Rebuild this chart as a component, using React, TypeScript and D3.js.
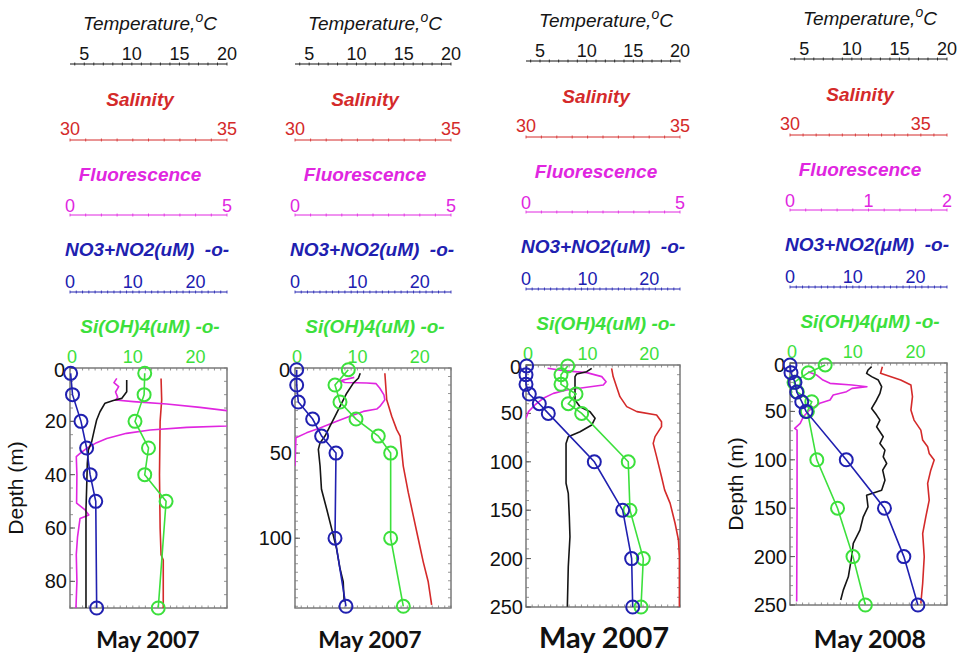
import React from 'react';
import * as d3 from 'd3';

type Pt = [number, number]; // [depth (m), value]

// ---------- tick labels ----------
const tempTicks = [5, 10, 15, 20];
const salTicksA = [30, 35];
const salTicksB = [30, 35];
const flTicksA = [0, 5];
const flTicksB = [0, 1, 2];
const nutTicks = [0, 10, 20];
const panelLabels = ['May 2007', 'May 2007', 'May 2007', 'May 2008'];

// ---------- Panel 1 (0-90 m) ----------
const p1Temp: Pt[] = [[4.5, 9.46], [8.9, 9.46], [11.4, 8.93], [12.2, 8.05], [13.2, 7.18], [16.4, 6.65], [19.5, 6.3], [23.3, 6.05], [27.6, 5.78], [30.7, 5.43], [35.7, 5.32], [45, 5.25], [53, 5.18], [90, 5.18]];
const p1Sal: Pt[] = [[3.9, 32.9], [12, 32.92], [20, 32.87], [40, 32.85], [60, 32.87], [70, 32.9], [72, 32.97], [90, 32.97]];
const p1Fl: Pt[] = [[3.9, 1.49], [5.5, 1.4], [7, 1.55], [9, 1.45], [11, 1.52], [12, 1.45], [12.6, 2.02], [13.5, 3.08], [14.75, 4.14], [16, 4.99], [18, 5.6], [20, 5.6], [21.75, 5.0], [22.25, 3.72], [23.25, 2.55], [24.5, 1.8], [26.4, 1.17], [28, 0.85], [30.1, 0.53], [32, 0.32], [33.2, 0.2], [40, 0.22], [50.7, 0.21], [53.2, 0.48], [55.1, 0.6], [56.4, 0.32], [63.3, 0.24], [70, 0.2], [80, 0.22], [90, 0.19]];
const p1NutDepth = [2, 10, 20, 30, 40, 50, 90];
const p1No3 = [0.1, 0.4, 1.75, 2.65, 3.2, 4.1, 4.25];
const p1Si = [11.9, 11.8, 10.35, 12.5, 11.9, 15.3, 14.05];

// ---------- Panel 2 (0-140 m) ----------
const p2Temp: Pt[] = [[3.1, 10.4], [6, 10.2], [8.9, 9.67], [14.8, 8.97], [22.6, 8.26], [28.4, 7.73], [34.2, 7.2], [40, 6.67], [44, 6.15], [47.8, 5.97], [57.6, 6.15], [71.2, 6.3], [82.8, 6.85], [94.5, 7.38], [106.2, 7.9], [117.8, 8.26], [125.6, 8.6], [137.3, 8.7]];
const p2Sal: Pt[] = [[3.1, 32.88], [18.7, 32.94], [28.4, 33.1], [36.2, 33.26], [40, 33.37], [57.6, 33.47], [73.1, 33.63], [86.7, 33.79], [100.3, 33.95], [113.9, 34.11], [125.6, 34.27], [139.2, 34.38]];
const p2Fl: Pt[] = [[5.5, 1.9], [7.5, 1.45], [8.5, 1.6], [8.8, 2.3], [9.2, 2.6], [11.9, 2.72], [15.8, 2.85], [18.7, 2.88], [22.6, 2.72], [24.1, 2.62], [25.5, 2.19], [28.4, 1.76], [31.3, 1.34], [35.2, 0.8], [38.1, 0.37], [41, 0.03], [57.6, 0]];
const p2NutDepth = [1, 10, 20, 30, 40, 50, 100, 140];
const p2No3 = [0.27, 0.27, 0.53, 2.83, 4.27, 6.57, 6.41, 8.17];
const p2Si = [8.54, 6.41, 7.21, 9.78, 13.35, 15.33, 15.33, 17.36];

// ---------- Panel 3 (0-250 m) ----------
const p3Temp: Pt[] = [[3.4, 10.54], [6.9, 10.0], [9.3, 8.93], [12, 8.75], [36.2, 8.75], [43.1, 9.29], [48.2, 10.36], [55.1, 10.9], [62, 10.54], [68.9, 9.29], [74.1, 8.03], [81, 7.79], [122.2, 7.79], [132.6, 8.03], [156.7, 8.14], [177.4, 8.21], [208.4, 8.03], [249.7, 7.93]];
const p3Sal: Pt[] = [[3.4, 32.78], [12, 32.83], [22.4, 32.94], [32.7, 33.05], [43, 33.27], [48.2, 33.6], [51.6, 34.24], [58.6, 34.4], [63.7, 34.4], [74, 34.19], [81, 34.13], [94.7, 34.24], [115.4, 34.4], [129, 34.5], [142.9, 34.68], [163.5, 34.84], [180.8, 34.95], [198, 34.98], [249.7, 34.98]];
const p3Fl: Pt[] = [[3.4, 0.7], [5.8, 1.21], [7.9, 1.97], [12, 2.46], [17.2, 2.6], [20.6, 2.51], [23, 1.97], [25.8, 1.32], [29.3, 0.89], [34.4, 0.56], [41.3, 0.29], [48.2, 0.08], [55.1, 0]];
const p3NutDepth = [1, 10, 20, 30, 40, 50, 100, 150, 200, 250];
const p3No3 = [0.1, 0, 0, 0.54, 2.16, 3.62, 11.09, 15.69, 17.15, 17.32];
const p3Si = [6.77, 5.68, 5.68, 8.12, 6.87, 9.04, 16.6, 16.88, 19.04, 18.67];

// ---------- Panel 4 (0-250 m) ----------
const p4Temp: Pt[] = [[3.8, 12.08], [7.2, 11.7], [10.7, 11.55], [14.1, 12.08], [17.6, 12.78], [24.5, 13.13], [31.4, 12.95], [38.2, 12.6], [46.9, 12.08], [53.8, 12.6], [59, 12.95], [65.9, 12.6], [76.2, 13.3], [83.1, 12.95], [90, 13.48], [96.9, 13.3], [103.8, 13.66], [110.7, 13.24], [121, 13.48], [131.4, 13.13], [136.6, 11.55], [148.6, 11.7], [158.9, 11.2], [172.7, 10.85], [186.4, 10.15], [200.2, 9.98], [220.9, 9.63], [234.6, 9.1], [244.9, 8.83]];
const p4Sal: Pt[] = [[3.8, 33.53], [10.7, 33.46], [17.6, 34.23], [22.7, 34.62], [34.8, 34.68], [48.6, 34.62], [59, 34.74], [69.3, 35.0], [79.6, 35.07], [86.5, 35.26], [93.4, 35.32], [100.3, 35.51], [110.7, 35.38], [124.4, 35.26], [141.7, 35.32], [159, 35.19], [176.2, 35.07], [200.2, 35.13], [227.8, 35.07], [248.5, 35.0]];
const p4Fl: Pt[] = [[9, 0.23], [12.4, 0.34], [17.6, 0.42], [21, 0.51], [22.7, 0.79], [24.5, 0.98], [26.2, 0.79], [29.6, 0.72], [33.1, 0.55], [38.2, 0.51], [41.6, 0.38], [48.6, 0.25], [55.5, 0.17], [62.3, 0.13], [67.5, 0.06], [69.3, 0.09], [150, 0.09], [246.5, 0.085]];
const p4NutDepth = [2, 10, 20, 30, 40, 50, 100, 150, 200, 250];
const p4No3 = [0, 0.16, 0.8, 1.07, 1.87, 2.56, 8.96, 15.04, 18.13, 20.37];
const p4Si = [5.6, 2.93, 0.64, 1.17, 3.47, 2.77, 4.27, 7.57, 10.03, 12];

// ---------- layout / styles ----------
const FONT = "'Liberation Sans', Arial, sans-serif";
const COL = { temp: '#151515', sal: '#d42a2a', fl: '#e026e0', no3: '#2020b0', si: '#3ce03c' };

interface PanelDef {
  label: string; x0: number; x1: number; y0: number; y1: number; dy: number;
  depthMax: number; depthTicks: number[]; depthMinor: number;
  salDomain: [number, number]; salTicks: number[]; salMinor: number;
  flDomain: [number, number]; flTicks: number[]; flMinor: number;
  temp: Pt[]; sal: Pt[]; fl: Pt[]; nutDepth: number[]; no3: number[]; si: number[];
  unit: string; depthLabel: boolean; labelSize: number; labelX: number;
}

const panels: PanelDef[] = [
  { label: panelLabels[0], x0: 70, x1: 227, y0: 368, y1: 608, dy: 0, depthMax: 90, depthTicks: [0, 20, 40, 60, 80], depthMinor: 5,
    salDomain: [30, 35], salTicks: salTicksA, salMinor: 0.5, flDomain: [0, 5], flTicks: flTicksA, flMinor: 0.5,
    temp: p1Temp, sal: p1Sal, fl: p1Fl, nutDepth: p1NutDepth, no3: p1No3, si: p1Si, unit: 'u', depthLabel: true, labelSize: 23, labelX: 148 },
  { label: panelLabels[1], x0: 295, x1: 451, y0: 368, y1: 608, dy: 0, depthMax: 141, depthTicks: [0, 50, 100], depthMinor: 5,
    salDomain: [30, 35], salTicks: salTicksA, salMinor: 0.5, flDomain: [0, 5], flTicks: flTicksA, flMinor: 0.5,
    temp: p2Temp, sal: p2Sal, fl: p2Fl, nutDepth: p2NutDepth, no3: p2No3, si: p2Si, unit: 'u', depthLabel: false, labelSize: 23, labelX: 370 },
  { label: panelLabels[2], x0: 526, x1: 680, y0: 365, y1: 607, dy: -3, depthMax: 250, depthTicks: [0, 50, 100, 150, 200, 250], depthMinor: 10,
    salDomain: [30, 35], salTicks: salTicksA, salMinor: 0.5, flDomain: [0, 5], flTicks: flTicksA, flMinor: 0.5,
    temp: p3Temp, sal: p3Sal, fl: p3Fl, nutDepth: p3NutDepth, no3: p3No3, si: p3Si, unit: 'u', depthLabel: false, labelSize: 29, labelX: 604 },
  { label: panelLabels[3], x0: 790, x1: 947, y0: 363, y1: 605, dy: -5, depthMax: 250, depthTicks: [0, 50, 100, 150, 200, 250], depthMinor: 10,
    salDomain: [30, 36], salTicks: salTicksB, salMinor: 0.5, flDomain: [0, 2], flTicks: flTicksB, flMinor: 0.2,
    temp: p4Temp, sal: p4Sal, fl: p4Fl, nutDepth: p4NutDepth, no3: p4No3, si: p4Si, unit: 'μ', depthLabel: true, labelSize: 25, labelX: 870 },
];

function TopAxis({ x0, x1, y, domain, ticks, minor, color, labelY }: { x0: number; x1: number; y: number; domain: [number, number]; ticks: number[]; minor: number; color: string; labelY: number }) {
  const s = d3.scaleLinear().domain(domain).range([x0, x1]);
  const minors = d3.range(Math.ceil(domain[0] / minor) * minor, domain[1] + 1e-9, minor);
  return (
    <g>
      <line x1={x0} x2={x1} y1={y} y2={y} stroke={color} strokeWidth={1} />
      {minors.map((m, i) => (
        <line key={i} x1={s(m)} x2={s(m)} y1={y - 1.5} y2={y + 1.5} stroke={color} strokeWidth={0.8} />
      ))}
      {ticks.map((t) => (
        <text key={t} x={s(t)} y={labelY} textAnchor="middle" fontSize={18} fill={color} fontFamily={FONT}>{t}</text>
      ))}
    </g>
  );
}

function Panel({ p }: { p: PanelDef }) {
  const y = d3.scaleLinear().domain([0, p.depthMax]).range([p.y0, p.y1]);
  const xT = d3.scaleLinear().domain([3.5, 20]).range([p.x0, p.x1]);
  const xS = d3.scaleLinear().domain(p.salDomain).range([p.x0, p.x1]);
  const xF = d3.scaleLinear().domain(p.flDomain).range([p.x0, p.x1]);
  const xN = d3.scaleLinear().domain([0, 25]).range([p.x0, p.x1]);
  const mk = (sx: d3.ScaleLinear<number, number>) => d3.line<Pt>().x((d) => sx(d[1])).y((d) => y(d[0]));
  const nutLine = d3.line<[number, number]>().x((d) => xN(d[1])).y((d) => y(d[0]));
  const no3Pts: [number, number][] = p.nutDepth.map((dd, i) => [dd, p.no3[i]]);
  const siPts: [number, number][] = p.nutDepth.map((dd, i) => [dd, p.si[i]]);
  const dy = p.dy;
  const clipId = `clip-${p.x0}`;
  const depthMinors = d3.range(0, p.depthMax + 1e-9, p.depthMinor);
  const siMinors = d3.range(0, 25.01, 1);
  return (
    <g fontFamily={FONT}>
      <defs>
        <clipPath id={clipId}>
          <rect x={p.x0} y={p.y0} width={p.x1 - p.x0} height={p.y1 - p.y0} />
        </clipPath>
      </defs>
      {/* titles */}
      <text x={p.x0 + 80} y={30 + dy} textAnchor="middle" fontSize={19} fontStyle="italic" fill={COL.temp}>
        <tspan>Temperature,</tspan>
        <tspan dy={-8} fontSize={14}>o</tspan>
        <tspan dy={8}>C</tspan>
      </text>
      <TopAxis x0={p.x0} x1={p.x1} y={64 + dy} domain={[3.5, 20]} ticks={tempTicks} minor={1} color={COL.temp} labelY={60 + dy} />

      <text x={p.x0 + 70} y={106 + dy} textAnchor="middle" fontSize={19} fontStyle="italic" fontWeight="bold" fill={COL.sal}>Salinity</text>
      <TopAxis x0={p.x0} x1={p.x1} y={140 + dy} domain={p.salDomain} ticks={p.salTicks} minor={p.salMinor} color={COL.sal} labelY={135 + dy} />

      <text x={p.x0 + 70} y={181 + dy} textAnchor="middle" fontSize={19} fontStyle="italic" fontWeight="bold" fill={COL.fl}>Fluorescence</text>
      <TopAxis x0={p.x0} x1={p.x1} y={215 + dy} domain={p.flDomain} ticks={p.flTicks} minor={p.flMinor} color={COL.fl} labelY={212 + dy} />

      <text x={p.x0 - 5} y={256 + dy} textAnchor="start" fontSize={19} fontStyle="italic" fontWeight="bold" fill={COL.no3} style={{ whiteSpace: 'pre' }}>{`NO3+NO2(${p.unit}M)  -o-`}</text>
      <TopAxis x0={p.x0} x1={p.x1} y={292 + dy} domain={[0, 25]} ticks={nutTicks} minor={1} color={COL.no3} labelY={288 + dy} />

      <text x={p.x0 + 80} y={333 + dy} textAnchor="middle" fontSize={19} fontStyle="italic" fontWeight="bold" fill={COL.si} style={{ whiteSpace: 'pre' }}>{`Si(OH)4(${p.unit}M) -o-`}</text>
      {nutTicks.map((t) => (
        <text key={t} x={xN(t) + (t === 0 ? 2 : 0)} y={p.y0 - 5} textAnchor="middle" fontSize={18} fill={COL.si}>{t}</text>
      ))}

      {/* box */}
      <rect x={p.x0} y={p.y0} width={p.x1 - p.x0} height={p.y1 - p.y0} fill="none" stroke="#7a7a7a" strokeWidth={1.5} />
      {depthMinors.map((d, i) => (
        <g key={i}>
          <line x1={p.x0} x2={p.x0 + 3} y1={y(d)} y2={y(d)} stroke="#7a7a7a" strokeWidth={0.8} />
          <line x1={p.x1} x2={p.x1 - 3} y1={y(d)} y2={y(d)} stroke="#7a7a7a" strokeWidth={0.8} />
        </g>
      ))}
      {siMinors.map((v, i) => (
        <g key={i}>
          <line x1={xN(v)} x2={xN(v)} y1={p.y0} y2={p.y0 + 2.5} stroke="#7a7a7a" strokeWidth={0.8} />
          <line x1={xN(v)} x2={xN(v)} y1={p.y1} y2={p.y1 - 2.5} stroke="#7a7a7a" strokeWidth={0.8} />
        </g>
      ))}
      {p.depthTicks.map((t) => (
        <g key={t}>
          <line x1={p.x0} x2={p.x0 + 5} y1={y(t)} y2={y(t)} stroke="#555" strokeWidth={1} />
          <text x={p.x0 - (t === 0 ? 5 : 3)} y={y(t) + (t === 0 ? 9 : 7)} textAnchor="end" fontSize={20} fill="#111">{t}</text>
        </g>
      ))}
      {p.depthLabel && (
        <text transform={`translate(${p.x0 - 47},${(p.y0 + p.y1) / 2}) rotate(-90)`} textAnchor="middle" fontSize={21} fill="#111">Depth (m)</text>
      )}

      {/* CTD profiles */}
      <g clipPath={`url(#${clipId})`} fill="none" strokeLinejoin="round">
        <path d={mk(xS)(p.sal) || ''} stroke={COL.sal} strokeWidth={1.6} />
        <path d={mk(xF)(p.fl) || ''} stroke={COL.fl} strokeWidth={1.6} />
        <path d={mk(xT)(p.temp) || ''} stroke={COL.temp} strokeWidth={1.6} />
      </g>

      {/* nutrients */}
      <path d={nutLine(siPts) || ''} fill="none" stroke={COL.si} strokeWidth={1.6} />
      {siPts.map((d, i) => (
        <circle key={i} cx={xN(d[1])} cy={y(d[0])} r={6.5} fill="none" stroke={COL.si} strokeWidth={2} />
      ))}
      <path d={nutLine(no3Pts) || ''} fill="none" stroke={COL.no3} strokeWidth={1.6} />
      {no3Pts.map((d, i) => (
        <circle key={i} cx={xN(d[1])} cy={y(d[0])} r={6.5} fill="none" stroke={COL.no3} strokeWidth={2} />
      ))}

      <text x={p.labelX} y={648} textAnchor="middle" fontSize={p.labelSize} fontWeight="bold" fill="#111" fontFamily="Lato, 'Open Sans', sans-serif">{p.label}</text>
    </g>
  );
}

export default function App() {
  return (
    <svg width={960} height={654} style={{ position: 'absolute', left: 0, top: 0, background: '#fff' }}>
      <rect width={960} height={654} fill="#fff" />
      {panels.map((p, i) => (
        <Panel key={i} p={p} />
      ))}
    </svg>
  );
}
